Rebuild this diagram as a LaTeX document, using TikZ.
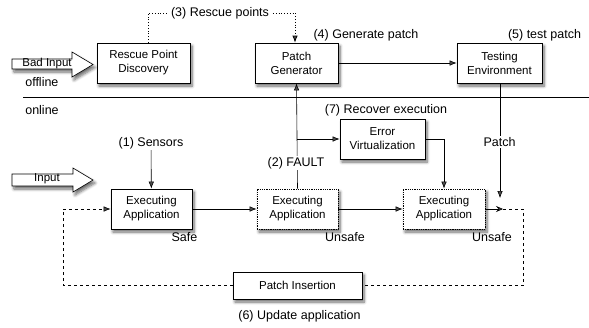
\documentclass[tikz,border=0pt]{standalone}
\usepackage{fontspec}
\setmainfont{Liberation Sans}
\usetikzlibrary{arrows.meta,shadows.blur,positioning}
\begin{document}
\begin{tikzpicture}[x=1pt,y=-1pt,
  shd/.style={blur shadow={shadow blur steps=6, shadow xshift=2pt, shadow yshift=-3pt, shadow opacity=60, shadow blur radius=3pt}},
  box/.style={draw, thick, fill=white, shd, align=center, font=\fontsize{11.5}{14}\selectfont, inner sep=0pt},
  dbox/.style={box, densely dotted},
  lbl/.style={font=\fontsize{12.5}{14}\selectfont, inner sep=1pt},
  wlbl/.style={lbl, fill=white},
  arr/.style={-{Latex[length=7pt,width=5.5pt]}},
  line width=0.6pt]
\useasboundingbox (0,0) rectangle (589,327);

% big input arrows
\path[draw, fill=white, shd] (12,59) -- (72,59) -- (72,52) -- (93,64.5) -- (72,77) -- (72,69) -- (12,69) -- cycle;
\node[font=\fontsize{11.5}{14}\selectfont, inner sep=0pt] (badin) at (47,63.5) {Bad Input};
\path[draw, fill=white, shd] (12,174) -- (73,174) -- (73,168) -- (93,180) -- (73,192) -- (73,186) -- (12,186) -- cycle;
\node[font=\fontsize{11.5}{14}\selectfont, inner sep=0pt] (in) at (47,179) {Input};

% offline / online
\draw (23,97) -- (589,97);
\node[lbl, anchor=west] (off) at (24,82) {offline};
\node[lbl, anchor=west] (on) at (24,110) {online};

% top boxes
\node[box, minimum width=93pt, minimum height=40pt] (rpd) at (143.5,63) {Rescue Point\\Discovery};
\node[box, minimum width=83pt, minimum height=40pt] (pg) at (296.5,63) {Patch\\Generator};
\node[box, minimum width=85pt, minimum height=40pt] (te) at (499.5,63) {Testing\\Environment};

% lower boxes
\node[box, minimum width=81pt, minimum height=40pt] (ea1) at (151.5,209) {Executing\\Application};
\node[dbox, minimum width=81pt, minimum height=40pt] (ea2) at (297.5,209) {Executing\\Application};
\node[dbox, minimum width=82pt, minimum height=40pt] (ea3) at (444,209) {Executing\\Application};
\node[box, minimum width=85pt, minimum height=40pt] (ev) at (382.5,139) {Error\\Virtualization};
\node[box, minimum width=129pt, minimum height=27pt] (pi) at (297.5,285.5) {Patch Insertion};

% labels
\node[lbl, outer sep=3pt] (l3) at (220,13) {(3) Rescue points};
\node[lbl] (l4) at (366,35) {(4) Generate patch};
\node[lbl] (l5) at (544.5,35) {(5) test patch};
\node[lbl] (l1) at (151,143) {(1) Sensors};
\node[lbl] (l7) at (386,110) {(7) Recover execution};
\node[lbl] (l6) at (299.5,316) {(6) Update application};
\node[lbl] (safe) at (184.5,237) {Safe};
\node[lbl] (us2) at (345,237) {Unsafe};
\node[lbl] (us3) at (492,237) {Unsafe};

% (3) dotted path
\draw[dotted, line width=0.8pt] (rpd.north -| 148,0) -- (148,13) -- (l3.west);
\draw[dotted, line width=0.8pt, arr] (l3.east) -- (295,13) -- (pg.north -| 295,0);

% connectors
\draw[arr] (pg) -- (te);
\draw[arr] (l1) -- (ea1);
\draw[arr] (ea1) -- (ea2);
\draw[arr] (ea2) -- (ea3);
\draw[arr] (ea2.north) -- (pg.south);
\node[wlbl] (fault) at (296,163) {(2) FAULT};
\coordinate (br) at (297,139);
\draw[arr] (br) -- (ev.west);
\draw[arr] (ev.east) -- (444,139) -- (ea3.north);
\coordinate (pin) at (500,198);
\draw[arr] (te.south -| pin) -- (pin);
\node[wlbl] (patch) at (499.5,142) {Patch};
\coordinate (pend) at (503,209);
\draw[-{Stealth[length=7pt,width=6pt,inset=2.5pt]}] (ea3.east) -- (pend);
\draw[dashed] (pend) -- (523,209) -- (523,285.5) -- (pi.east);
\draw[dashed, arr] (pi.west) -- (63,285.5) -- (63,209) -- (ea1.west);
\end{tikzpicture}
\end{document}
